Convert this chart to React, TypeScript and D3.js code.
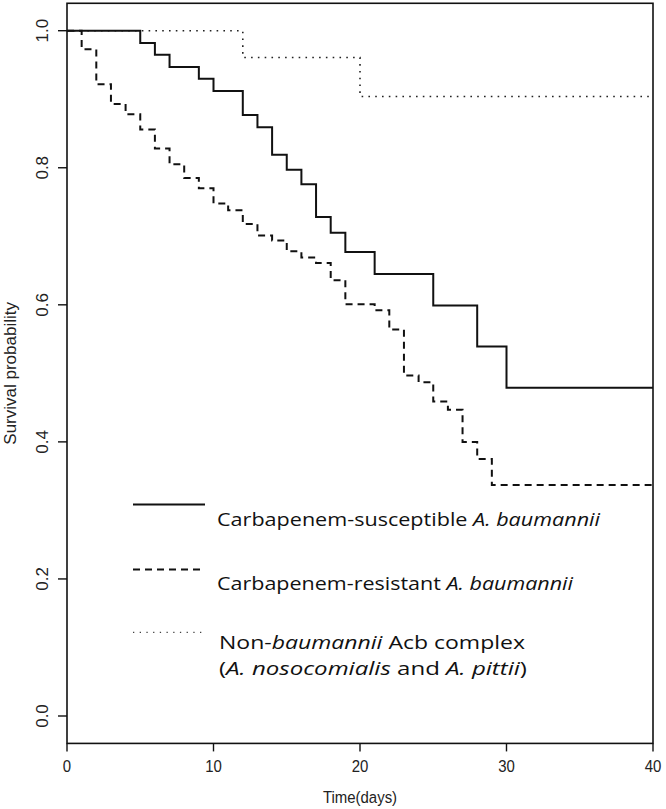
import React from "react";
import * as d3 from "d3";

// Carbapenem-susceptible A. baumannii (solid)
const csTimes = [0, 5, 6, 7, 9, 10, 12, 13, 14, 15, 16, 17, 18, 19, 21, 25, 28, 30, 40];
const csSurv = [1, 0.982, 0.965, 0.947, 0.93, 0.912, 0.877, 0.859, 0.819, 0.797, 0.776, 0.728, 0.705, 0.677, 0.645, 0.599, 0.539, 0.479, 0.479];

// Carbapenem-resistant A. baumannii (dashed)
const crTimes = [0, 1, 2, 3, 4, 5, 6, 7, 8, 9, 10, 11, 12, 13, 14, 15, 16, 17, 18, 19, 21, 22, 23, 24, 25, 26, 27, 28, 29, 40];
const crSurv = [1, 0.973, 0.922, 0.893, 0.878, 0.856, 0.828, 0.805, 0.785, 0.77, 0.748, 0.738, 0.718, 0.701, 0.694, 0.678, 0.669, 0.661, 0.636, 0.601, 0.592, 0.564, 0.497, 0.487, 0.459, 0.447, 0.4, 0.375, 0.337, 0.337];

// Non-baumannii Acb complex (dotted)
const nbTimes = [0, 12, 20, 40];
const nbSurv = [1, 0.961, 0.904, 0.904];

const xTicks = [0, 10, 20, 30, 40];
const yTicks = [0, 0.2, 0.4, 0.6, 0.8, 1.0];

const W = 666;
const H = 809;

export default function App() {
  const x = d3.scaleLinear().domain([0, 40]).range([67, 653]);
  const y = d3.scaleLinear().domain([0, 1]).range([716, 30.7]);
  const yTop = y(1.04);
  const yBot = y(-0.04);

  const line = d3
    .line<[number, number]>()
    .x((d) => x(d[0]))
    .y((d) => y(d[1]))
    .curve(d3.curveStepAfter);

  const pts = (t: number[], s: number[]) => t.map((v, i) => [v, s[i]] as [number, number]);

  const axisFont = "'Liberation Sans', Arial, sans-serif";
  const legFont = "'Open Sans', 'Noto Sans', sans-serif";
  const legX0 = 133;
  const legX1 = 205;
  const legTextX = 217;
  const legFs = 18.5;

  return (
    <svg width={W} height={H} style={{ position: "absolute", left: 0, top: 0, background: "#fff" }}>
      <rect x={0} y={0} width={W} height={H} fill="#fff" />
      {/* box */}
      <rect x={x(0)} y={yTop} width={x(40) - x(0)} height={yBot - yTop} fill="none" stroke="#111" strokeWidth={1.6} />

      {/* y axis ticks */}
      {yTicks.map((t) => (
        <g key={"y" + t}>
          <line x1={x(0) - 9} x2={x(0)} y1={y(t)} y2={y(t)} stroke="#111" strokeWidth={1.4} />
          <text
            transform={`translate(48,${y(t)}) rotate(-90)`}
            textAnchor="middle"
            fontFamily={axisFont}
            fontSize={17}
            fill="#222"
          >
            {t.toFixed(1)}
          </text>
        </g>
      ))}
      <text
        transform={`translate(16,${(y(0) + y(1)) / 2}) rotate(-90)`}
        textAnchor="middle"
        fontFamily={axisFont}
        fontSize={17}
        fill="#222"
      >
        Survival probability
      </text>

      {/* x axis ticks */}
      {xTicks.map((t) => (
        <g key={"x" + t}>
          <line x1={x(t)} x2={x(t)} y1={yBot} y2={yBot + 8} stroke="#111" strokeWidth={1.4} />
          <text
            transform={`translate(${x(t)},772) scale(0.88,1)`}
            textAnchor="middle"
            fontFamily={axisFont}
            fontSize={17}
            fill="#222"
          >
            {t}
          </text>
        </g>
      ))}
      <text
        transform={`translate(${(x(0) + x(40)) / 2},803) scale(0.88,1)`}
        textAnchor="middle"
        fontFamily={axisFont}
        fontSize={17}
        fill="#222"
      >
        Time(days)
      </text>

      {/* curves */}
      <path d={line(pts(nbTimes, nbSurv)) || ""} fill="none" stroke="#222" strokeWidth={1.6} strokeDasharray="1.6,5.2" />
      <path d={line(pts(crTimes, crSurv)) || ""} fill="none" stroke="#111" strokeWidth={2} strokeDasharray="7,5" />
      <path d={line(pts(csTimes, csSurv)) || ""} fill="none" stroke="#111" strokeWidth={2} />

      {/* legend */}
      <line x1={legX0} x2={legX1} y1={504.5} y2={504.5} stroke="#111" strokeWidth={2} />
      <text x={legTextX} y={525.5} fontFamily={legFont} fontSize={legFs} fill="#111" textLength={383} lengthAdjust="spacingAndGlyphs">
        Carbapenem-susceptible <tspan fontStyle="italic">A. baumannii</tspan>
      </text>

      <line x1={legX0} x2={legX1} y1={569.5} y2={569.5} stroke="#111" strokeWidth={2} strokeDasharray="7,5" />
      <text x={legTextX} y={590} fontFamily={legFont} fontSize={legFs} fill="#111" textLength={356} lengthAdjust="spacingAndGlyphs">
        Carbapenem-resistant <tspan fontStyle="italic">A. baumannii</tspan>
      </text>

      <line x1={legX0} x2={legX1} y1={632.3} y2={632.3} stroke="#444" strokeWidth={1.3} strokeDasharray="1.3,5.4" />
      <text x={legTextX + 2} y={648.5} fontFamily={legFont} fontSize={legFs} fill="#111" textLength={306} lengthAdjust="spacingAndGlyphs">
        Non-<tspan fontStyle="italic">baumannii</tspan> Acb complex
      </text>
      <text x={legTextX + 2} y={674.5} fontFamily={legFont} fontSize={legFs} fill="#111" textLength={308} lengthAdjust="spacingAndGlyphs">
        (<tspan fontStyle="italic">A. nosocomialis</tspan> and <tspan fontStyle="italic">A. pittii</tspan>)
      </text>
    </svg>
  );
}
